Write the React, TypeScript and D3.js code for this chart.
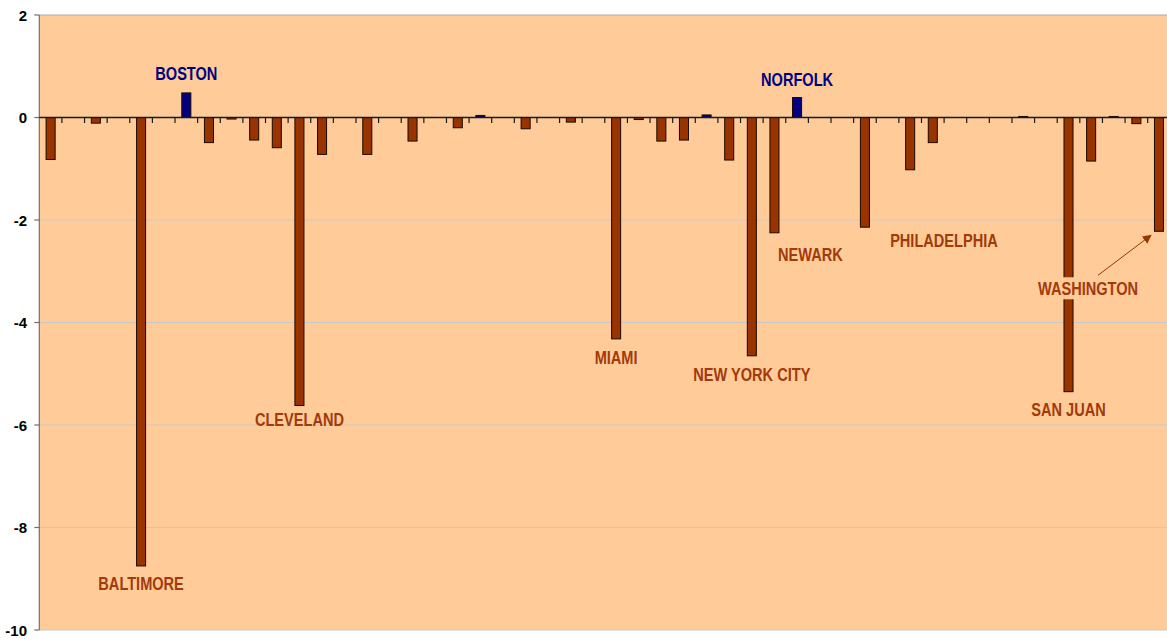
import React from "react";
import * as d3 from "d3";

const values: number[] = [
  -0.82, 0, -0.11, 0, -8.75, 0, 0.48, -0.49, -0.03, -0.44,
  -0.59, -5.62, -0.72, 0, -0.72, 0, -0.46, 0, -0.2, 0.04,
  0, -0.22, 0, -0.09, 0, -4.32, -0.04, -0.46, -0.44, 0.05,
  -0.83, -4.65, -2.25, 0.39, 0, 0, -2.14, 0, -1.02, -0.49,
  0, 0, 0, 0.02, 0, -5.35, -0.85, 0.02, -0.12, -2.22,
];
const categories: string[] = values.map((_, i) => `C${i + 1}`);

const yTicks: number[] = [2, 0, -2, -4, -6, -8, -10];

// annotated cities: category index, text, offset from bar end
const labelIdx: number[] = [4, 6, 11, 25, 31, 32, 33, 36, 45, 49];
const labelText: string[] = ["BALTIMORE", "BOSTON", "CLEVELAND", "MIAMI", "NEW YORK CITY", "NEWARK", "NORFOLK", "PHILADELPHIA", "SAN JUAN", "WASHINGTON"];
const labelDx: number[] = [0, 0, 0, 0, 0, 36, 0, 79, 0, -71];
const labelDy: number[] = [24, -13, 20.5, 25, 25, 28, -11.5, 20, 24.5, 64];

const W = 1167, H = 639;
const left = 39.3, right = 1170.3, top = 15, bottom = 630;
const BROWN = "#993300";
const NAVY = "#000080";

export default function App() {
  const x = d3.scaleBand<string>().domain(categories).range([left, right]).paddingInner(0.6).paddingOuter(0.3);
  const y = d3.scaleLinear().domain([-10, 2]).range([bottom, top]);
  const bw = x.bandwidth();
  const step = x.step();
  const y0 = y(0);

  const font = "'Liberation Sans', Arial, sans-serif";

  return (
    <div style={{ position: "absolute", left: 0, top: 0, width: W, height: H, background: "#fff" }}>
      <svg width={W} height={H} style={{ display: "block" }}>
        <defs>
          <marker id="arr" viewBox="0 0 10 10" refX="9" refY="5" markerWidth="9" markerHeight="9" orient="auto" markerUnits="userSpaceOnUse">
            <path d="M0,0 L10,5 L0,10 z" fill={BROWN} />
          </marker>
        </defs>
        <rect x={left} y={top} width={right - left} height={bottom - top} fill="#FFCC99" />
        {yTicks.map((t) => (
          <line key={"g" + t} x1={left} x2={right} y1={y(t)} y2={y(t)} stroke={t === 2 ? "#a8a8a8" : "#c8c8c8"} strokeWidth={1} />
        ))}
        {/* left axis */}
        <line x1={left} x2={left} y1={top} y2={bottom} stroke="#7a6e64" strokeWidth={1.2} />
        {yTicks.map((t) => (
          <g key={"t" + t}>
            <line x1={left - 5} x2={left} y1={y(t)} y2={y(t)} stroke="#7a6e64" strokeWidth={1.2} />
            <text x={27} y={y(t) + 5.5} textAnchor="end" fontFamily={font} fontWeight="bold" fontSize={15} fill="#000">
              {t}
            </text>
          </g>
        ))}
        {/* bars */}
        {values.map((v, i) => {
          if (v === 0) return null;
          const c = categories[i];
          const yy = Math.min(y(v), y0);
          const hh = Math.abs(y(v) - y0);
          const fill = v > 0 ? NAVY : BROWN;
          return <rect key={c} x={x(c)!} y={yy} width={bw} height={hh} fill={fill} stroke="#1a0a00" strokeWidth={1} />;
        })}
        {/* zero axis */}
        <line x1={left} x2={right} y1={y0} y2={y0} stroke="#1a1a1a" strokeWidth={1.5} />
        {categories.slice(1).map((c) => (
          <line key={"zt" + c} x1={x(c)! - (step - bw) / 2} x2={x(c)! - (step - bw) / 2} y1={y0} y2={y0 + 5.5} stroke="#1a1a1a" strokeWidth={1.2} />
        ))}
        {/* labels */}
        {labelIdx.map((idx, k) => {
          const c = categories[idx];
          const v = values[idx];
          const cx = x(c)! + bw / 2 + labelDx[k];
          const cy = y(v) + labelDy[k];
          const isWash = labelText[k] === "WASHINGTON";
          return (
            <g key={"l" + k}>
              {isWash && <rect x={cx - 55} y={cy - 18} width={110} height={22} fill="#FFCC99" />}
              <g transform={`translate(${cx},${cy}) scale(0.81,1)`}>
                <text x={0} y={0} textAnchor="middle" fontFamily={font} fontWeight="bold" fontSize={18} fill={v > 0 ? NAVY : "#A23A0C"}>
                  {labelText[k]}
                </text>
              </g>
              {isWash && (
                <line x1={cx + 10} y1={cy - 20} x2={x(c)! + bw / 2 - 8} y2={y(v) + 4} stroke={BROWN} strokeWidth={1} markerEnd="url(#arr)" />
              )}
            </g>
          );
        })}
      </svg>
    </div>
  );
}
